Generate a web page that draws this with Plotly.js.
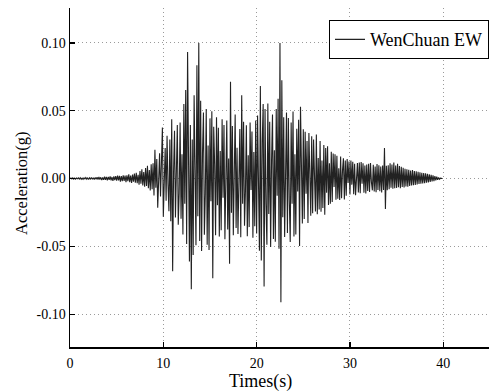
<!DOCTYPE html>
<html>
<head>
<meta charset="utf-8">
<script src="https://cdn.plot.ly/plotly-3.0.1.min.js"></script>
<style>html,body{margin:0;padding:0;background:#fff}#chart{width:490px;height:391px}</style>
</head>
<body>
<div id="chart"></div>
<script>
// Sampling of the record
var startTime = 0;      // s
var sampleStep = 0.1;   // s

// Acceleration (g), one row per second of record
var acc0to9 = [
  0, 0.0004, -0.0003, 0.0005, -0.0004, 0.0003, -0.0005, 0.0004, -0.0002, 0.0005,
  -0.0004, 0.0006, -0.0005, 0.0003, -0.0006, 0.0005, -0.0003, 0.0007, -0.0005, 0.0004,
  -0.0007, 0.0006, -0.0004, 0.0008, -0.0006, 0.0005, -0.0008, 0.0007, -0.0005, 0.0009,
  -0.0008, 0.0011, -0.0007, 0.0009, -0.0012, 0.0008, -0.0010, 0.0013, -0.0009, 0.0011,
  -0.0014, 0.0012, -0.0010, 0.0016, -0.0013, 0.0011, -0.0017, 0.0015, -0.0012, 0.0018,
  -0.0016, 0.0021, -0.0014, 0.0019, -0.0023, 0.0017, -0.0020, 0.0024, -0.0018, 0.0022,
  -0.0026, 0.0023, -0.0019, 0.0031, -0.0027, 0.0022, -0.0033, 0.0029, -0.0024, 0.0036,
  -0.0031, 0.0042, -0.0035, 0.0028, -0.0046, 0.0055, -0.0039, 0.0068, -0.0052, 0.0047,
  -0.0061, 0.0078, -0.0055, 0.0094, -0.0072, 0.0063, -0.0088, 0.0105, -0.0079, 0.0112,
  -0.0125, 0.0212, -0.0068, 0.0143, -0.0215, -0.0042, 0.0186, -0.0132, 0.0251, 0.0376
];
var acc10to19 = [
  -0.0282, 0.0124, 0.0224, -0.0163, 0.0315, -0.0041, -0.0241, 0.0287, -0.0315, 0.0436,
  -0.0683, 0.0052, 0.0352, -0.0287, 0.0194, 0.0394, -0.0341, -0.0108, 0.0412, -0.0296,
  0.0178, -0.0412, 0.0548, -0.0186, 0.0652, -0.0483, 0.0931, -0.0227, -0.0612, 0.0395,
  -0.0815, 0.0287, -0.0564, 0.0613, 0.0092, -0.0492, 0.0834, -0.0278, 0.0998, -0.0461,
  0.0572, -0.0533, 0.0186, 0.0486, -0.0415, -0.0112, 0.0512, -0.0487, 0.0243, -0.0526,
  0.0443, -0.0168, 0.0496, -0.0735, 0.0382, 0.0105, -0.0418, 0.0451, -0.0196, 0.0374,
  -0.0428, 0.0202, -0.0381, 0.0436, -0.0142, 0.0395, -0.0447, 0.0058, 0.0427, -0.0376,
  0.0148, -0.0627, 0.0712, -0.0253, 0.0386, -0.0418, 0.0072, 0.0472, -0.0365, 0.0227,
  -0.0408, 0.0165, 0.0365, -0.0432, 0.0614, -0.0185, 0.0418, -0.0347, -0.0092, 0.0392,
  -0.0426, 0.0171, -0.0358, 0.0412, -0.0084, 0.0347, -0.0436, 0.0196, -0.0352, 0.0428
];
var acc20to29 = [
  -0.0405, 0.0465, -0.0132, -0.0532, 0.0682, -0.0604, 0.0273, 0.0548, -0.0796, 0.0512,
  -0.0187, -0.0487, 0.0553, -0.0262, 0.0418, -0.0505, 0.0136, 0.0472, -0.0446, 0.0208,
  -0.0465, 0.0512, -0.0127, 0.0587, -0.0518, 0.0998, -0.0912, 0.0723, -0.0286, 0.0452,
  -0.0431, 0.0187, 0.0487, -0.0402, 0.0446, -0.0168, -0.0468, 0.0412, -0.0185, 0.0493,
  -0.0427, 0.0178, -0.0412, 0.0366, -0.0095, 0.0432, -0.0497, 0.0528, -0.0156, -0.0331,
  0.0362, -0.0298, 0.0345, -0.0112, 0.0276, -0.0328, 0.0335, -0.0064, -0.0275, 0.0312,
  -0.0256, 0.0287, -0.0042, -0.0242, 0.0324, -0.0263, 0.0151, -0.0228, 0.0276, -0.0245,
  0.0132, -0.0218, 0.0246, -0.0267, 0.0225, -0.0104, 0.0238, -0.0195, 0.0112, -0.0186,
  0.0198, -0.0172, 0.0185, -0.0063, 0.0178, -0.0156, 0.0168, -0.0149, 0.0075, -0.0158,
  0.0162, -0.0145, 0.0058, 0.0149, -0.0154, 0.0132, -0.0127, 0.0144, -0.0033, 0.0126
];
var acc30to39 = [
  -0.0118, 0.0132, -0.0045, 0.0124, -0.0116, 0.0109, -0.0123, 0.0035, 0.0115, -0.0102,
  0.0118, -0.0108, 0.0121, -0.0038, 0.0112, -0.0104, 0.0095, -0.0111, 0.0103, -0.0092,
  0.0108, -0.0099, 0.0114, -0.0027, -0.0087, 0.0102, -0.0096, 0.0089, -0.0101, 0.0106,
  -0.0085, 0.0097, -0.0093, 0.0088, -0.0102, 0.0096, -0.0084, 0.0225, -0.0224, 0.0094,
  -0.0086, 0.0098, -0.0079, 0.0112, -0.0068, 0.0104, -0.0075, 0.0118, -0.0072, 0.0096,
  -0.0069, 0.0108, -0.0065, 0.0092, -0.0071, 0.0087, -0.0062, 0.0079, -0.0066, 0.0072,
  -0.0058, 0.0068, -0.0061, 0.0064, -0.0055, 0.0059, -0.0052, 0.0062, -0.0049, 0.0056,
  -0.0047, 0.0053, -0.0044, 0.0049, -0.0041, 0.0046, -0.0038, 0.0043, -0.0036, 0.0041,
  -0.0034, 0.0038, -0.0031, 0.0034, -0.0028, 0.0031, -0.0025, 0.0027, -0.0022, 0.0024,
  -0.0019, 0.0018, -0.0014, 0.0013, -0.0009, 0.0008, -0.0005, 0.0003, -0.0001, 0
];

var xTickVals = [0, 10, 20, 30, 40];
var xTickText = ['0', '10', '20', '30', '40'];
var yTickVals = [-0.10, -0.05, 0.00, 0.05, 0.10];
var yTickText = ['-0.10', '-0.05', '0.00', '0.05', '0.10'];
var seriesName = 'WenChuan EW';
var xTitle = 'Times(s)';
var yTitle = 'Acceleration(g)';

var accel = acc0to9.concat(acc10to19, acc20to29, acc30to39);

var FONT = '"Liberation Serif", "Times New Roman", serif';

var trace = {
  type: 'scatter',
  mode: 'lines',
  name: seriesName,
  x0: startTime,
  dx: sampleStep,
  y: accel,
  line: {color: '#222222', width: 1.1},
  hoverinfo: 'skip'
};

var layout = {
  width: 490,
  height: 391,
  margin: {l: 70, r: 1, t: 8, b: 44, pad: 0},
  paper_bgcolor: '#ffffff',
  plot_bgcolor: '#ffffff',
  font: {family: FONT, color: '#000', size: 14},
  showlegend: true,
  legend: {
    x: 1, xanchor: 'right', y: 0.964, yanchor: 'top',
    bordercolor: '#000', borderwidth: 1, bgcolor: '#fff',
    font: {family: FONT, size: 18, color: '#000'},
    tracegroupgap: 0
  },
  xaxis: {
    range: [0, 44.9],
    tickmode: 'array', tickvals: xTickVals, ticktext: xTickText,
    ticks: 'inside', ticklen: 5, tickwidth: 1.5, tickcolor: '#000',
    showline: true, linecolor: '#000', linewidth: 1.5, mirror: false,
    showgrid: true, gridcolor: '#9a9a9a', gridwidth: 1, griddash: '1px,3px',
    zeroline: false,
    ticklabelstandoff: 3,
    tickfont: {family: FONT, size: 14, color: '#000'}
  },
  yaxis: {
    range: [-0.1241, 0.1256],
    tickmode: 'array', tickvals: yTickVals, ticktext: yTickText,
    ticks: 'inside', ticklen: 5, tickwidth: 1.5, tickcolor: '#000',
    showline: true, linecolor: '#000', linewidth: 1.5, mirror: false,
    showgrid: true, gridcolor: '#9a9a9a', gridwidth: 1, griddash: '1px,3px',
    zeroline: false,
    tickfont: {family: FONT, size: 14, color: '#000'}
  },
  annotations: [
    {text: xTitle, xref: 'paper', yref: 'paper', x: 0.4535, y: -0.1003,
     xanchor: 'center', yanchor: 'middle', showarrow: false,
     font: {family: FONT, size: 18, color: '#000'}},
    {text: yTitle, xref: 'paper', yref: 'paper', x: -0.1146, y: 0.4838,
     xanchor: 'center', yanchor: 'middle', textangle: -90, showarrow: false,
     font: {family: FONT, size: 16.5, color: '#000'}}
  ]
};

Plotly.newPlot('chart', [trace], layout, {staticPlot: true, displayModeBar: false});
</script>
</body>
</html>
